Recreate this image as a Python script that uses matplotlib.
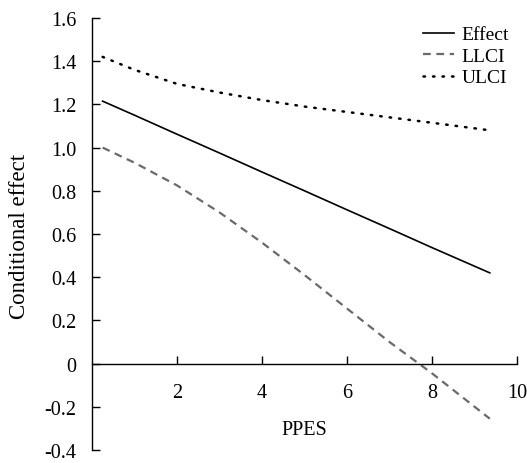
import matplotlib
matplotlib.use('Agg')
import matplotlib.pyplot as plt

# PPES values and conditional effect with confidence bounds
ppes = [0.25, 1, 2, 3, 4, 5, 6, 7, 8, 9.36]
effect = [1.215, 1.150, 1.062, 0.975, 0.887, 0.800, 0.712, 0.625, 0.537, 0.420]
llci = [1.00, 0.93, 0.825, 0.70, 0.56, 0.41, 0.255, 0.10, -0.045, -0.255]
ulci = [1.42, 1.36, 1.295, 1.255, 1.22, 1.19, 1.165, 1.14, 1.115, 1.08]

xticks = [2, 4, 6, 8, 10]
yticks = [-0.4, -0.2, 0, 0.2, 0.4, 0.6, 0.8, 1.0, 1.2, 1.4, 1.6]
ylabels = ['-0.4', '-0.2', '0', '0.2', '0.4', '0.6', '0.8', '1.0', '1.2', '1.4', '1.6']

plt.rcParams['font.family'] = ['Liberation Serif', 'DejaVu Serif']
plt.rcParams['font.size'] = 14.5

fig = plt.figure(figsize=(5.27, 4.64), dpi=100)
ax = fig.add_axes([92/527, 13/464, 425/527, 432/464])

ax.plot(ppes, effect, color='black', lw=1.2, label='Effect')
ax.plot(ppes, llci, color='#6a6a6a', lw=1.6, linestyle=(0, (3.5, 2.5)), label='LLCI')
ax.plot(ppes, ulci, color='black', lw=1.8, linestyle=(0, (0.6, 3.2)),
        dash_capstyle='round', label='ULCI')

ax.set_xlim(0, 10)
ax.set_ylim(-0.4, 1.6)
ax.set_xticks(xticks)
ax.set_yticks(yticks)
ax.set_yticklabels(ylabels)

# x axis sits at y = 0
ax.spines['bottom'].set_position(('data', 0))
ax.spines['top'].set_visible(False)
ax.spines['right'].set_visible(False)
ax.spines['left'].set_linewidth(1.0)
ax.spines['bottom'].set_linewidth(1.0)
ax.tick_params(axis='x', direction='in', length=6, width=1.0, pad=14)
ax.tick_params(axis='y', direction='in', length=6, width=1.0, pad=11)

ax.set_xlabel('PPES')
ax.xaxis.set_label_coords(0.5, 0.07)
fig.text(20/527, 1 - 236/464, 'Conditional effect', rotation=90,
         ha='center', va='center', fontsize=16.5)

ax.legend(loc='upper right', bbox_to_anchor=(1.0, 1.0), frameon=False, fontsize=14,
          handlelength=1.6, handletextpad=0.4, labelspacing=0.2, borderaxespad=0.0)

fig.savefig('out.png', dpi=100)
